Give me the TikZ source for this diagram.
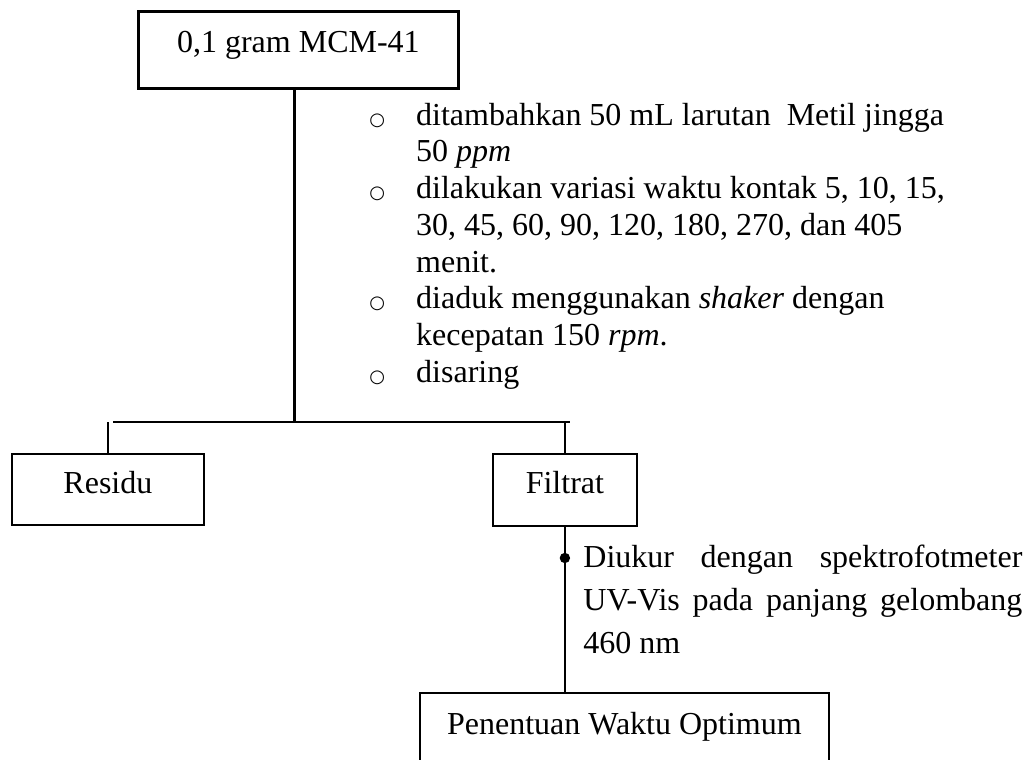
\documentclass[tikz,border=0pt]{standalone}
\usepackage{fontspec}
\setmainfont{Liberation Serif}
\newfontfamily\simbol{DejaVu Sans}
\newcommand{\bulat}{\makebox[23.4pt][l]{\fontsize{9}{9}\simbol ○}}

\begin{document}
\begin{tikzpicture}
   [x=0.5pt,y=-0.5pt,
    kotak/.style={draw, line width=0.9pt, inner sep=0pt, align=center, anchor=north west,
           font=\fontsize{16}{18.4}\selectfont},
    teks/.style={inner sep=0pt, anchor=base west, font=\fontsize{16}{18.4}\selectfont},
    garis/.style={line width=0.8pt}]
\useasboundingbox (0,0) rectangle (1035,760);
\begin{scope}
\clip (0,0) rectangle (1035,760);
\node[kotak, line width=1.4pt, minimum width=160pt, text height=20.5pt, text depth=18pt] (mcm) at (137,10) {0,1 gram MCM-41};
\node[kotak, minimum width=96pt, text height=20pt, text depth=15.5pt] (residu) at (11,453) {Residu};
\node[kotak, minimum width=72pt, text height=20pt, text depth=16pt] (filtrat) at (492,453) {Filtrat};
\node[kotak, minimum width=204.5pt, text height=21pt, text depth=20pt] (optimum) at (419,692) {Penentuan Waktu Optimum};

\node[teks] (langkah) at (369,125) {\begin{tabular}[t]{@{}l@{}l@{}}
  \bulat & ditambahkan 50 mL larutan\ \ Metil jingga\\
         & 50 \textit{ppm}\\
  \bulat & dilakukan variasi waktu kontak 5, 10, 15,\\
         & 30, 45, 60, 90, 120, 180, 270, dan 405\\
         & menit.\\
  \bulat & diaduk menggunakan \textit{shaker} dengan\\
         & kecepatan 150 \textit{rpm}.\\
  \bulat & disaring
  \end{tabular}};
\node[teks, text width=219.5pt, align=justify, font=\fontsize{16}{21.5}\selectfont] (ukur) at (583,567)
  {Diukur dengan spektrofotmeter\linebreak UV-Vis pada panjang gelombang\linebreak 460 nm};

\coordinate (kiri) at (113,422);
\coordinate (kanan) at (570,422);
\draw[line width=1.2pt] (kiri) -- (kanan);
\draw[line width=1.4pt] ([xshift=-2pt]mcm.south) -- ([xshift=-2pt]mcm.south |- kiri);
\draw[garis] (residu.north) -- (residu.north |- kiri);
\draw[garis] (filtrat.north) -- (filtrat.north |- kanan);
\draw[garis] (filtrat.south) -- (filtrat.south |- optimum.north);
\fill ([yshift=4.5pt]filtrat.south |- ukur.base) circle (2.6pt);
\end{scope}
\end{tikzpicture}
\end{document}
